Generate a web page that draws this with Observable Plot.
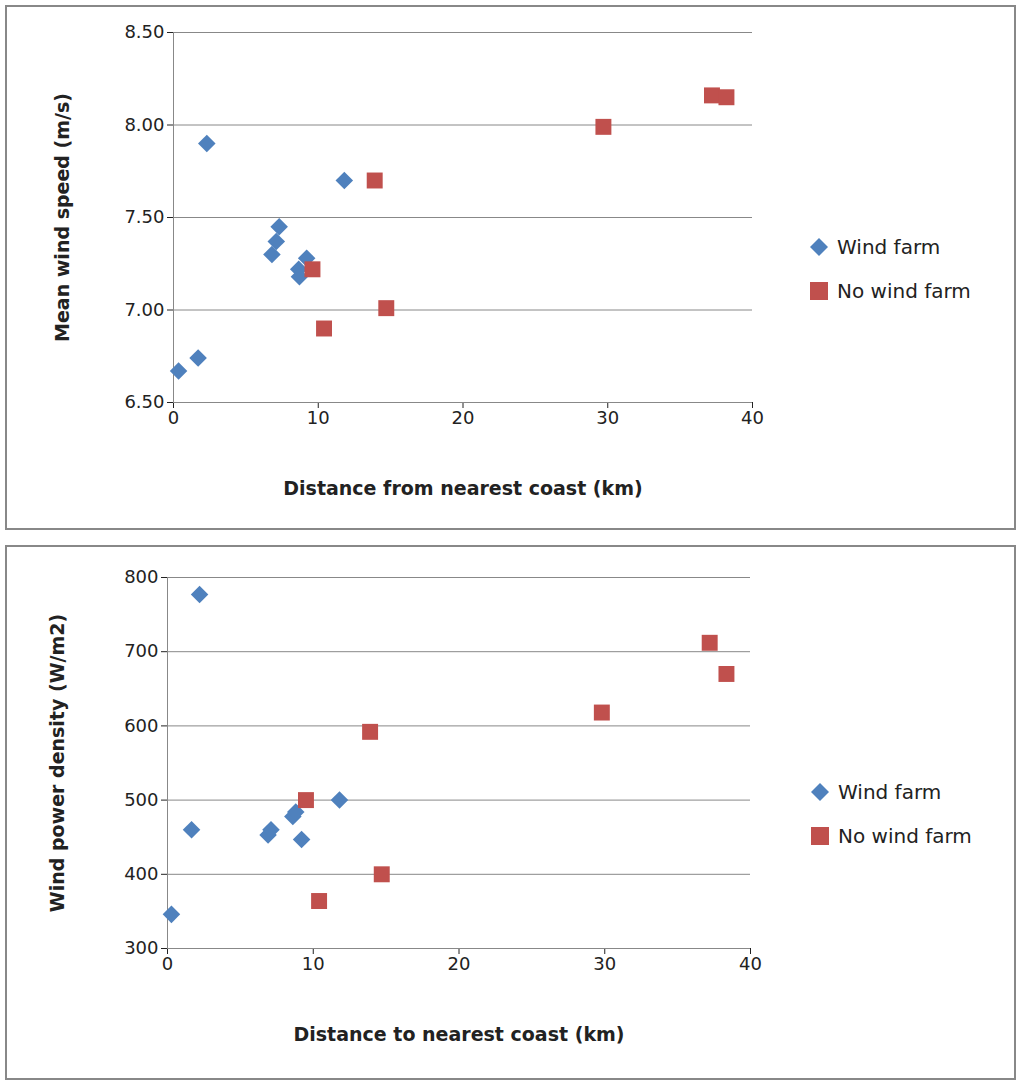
<!DOCTYPE html>
<html><head><meta charset="utf-8">
<script src="https://cdn.jsdelivr.net/npm/d3@7"></script>
<script src="https://cdn.jsdelivr.net/npm/@observablehq/plot@0.6"></script>
<style>
body{margin:0;background:#fff;font-family:"DejaVu Sans",sans-serif;}
.panel{position:absolute;left:5px;width:1011px;border:2px solid #888;box-sizing:border-box;background:#fff;}
.leg{position:absolute;font-size:20px;color:#222;}
.leg div{display:flex;align-items:center;margin-bottom:20px;}
.sw{display:inline-block;margin-right:8px;}
</style></head><body>
<div id="p1" class="panel" style="top:5px;height:525px"></div>
<div id="p2" class="panel" style="top:545px;height:535px"></div>
<script>
const farmDist1 = [2.3, 0.35, 1.7, 7.3, 7.1, 6.8, 9.2, 8.65, 8.7, 11.8];
const farmSpeed = [7.90, 6.67, 6.74, 7.45, 7.37, 7.30, 7.28, 7.22, 7.18, 7.70];
const noDist1 = [13.9, 9.6, 10.4, 14.7, 29.7, 37.2, 38.2];
const noSpeed = [7.70, 7.22, 6.90, 7.01, 7.99, 8.16, 8.15];
const farmDist2 = [2.2, 0.27, 1.65, 6.9, 7.1, 8.6, 8.8, 9.2, 11.8];
const farmPower = [777, 346, 460, 453, 460, 478, 484, 447, 500];
const noDist2 = [9.5, 13.9, 10.4, 14.7, 29.8, 37.2, 38.35];
const noPower = [500, 592, 364, 400, 618, 712, 670];
const blue="#4F81BD", red="#C0504D";
const zip=(a,b)=>a.map((x,i)=>({x,y:b[i]}));

function chart(el, o){
  const p = Plot.plot({
    width:1007, height:o.h, marginLeft:o.ml, marginRight:1007-o.mr, marginTop:o.mt, marginBottom:o.mb,
    style:{fontSize:"18px",fontFamily:"DejaVu Sans",color:"#222"},
    x:{domain:[0,40],ticks:[0,10,20,30,40],tickSize:6,label:o.xl,labelAnchor:"center",labelOffset:o.lo,labelArrow:"none"},
    y:{domain:o.yd,ticks:o.yt,tickFormat:o.tf,tickSize:6,label:o.yl,labelAnchor:"center",labelOffset:o.yo,labelArrow:"none"},
    marks:[
      Plot.gridY(o.yt,{stroke:"#888",strokeOpacity:1}),
      Plot.ruleX([0],{stroke:"#888"}),
      Plot.ruleY([o.yd[0]],{stroke:"#888"}),
      Plot.dot(zip(o.fx,o.fy),{x:"x",y:"y",symbol:"square",rotate:45,fill:blue,r:7}),
      Plot.dot(zip(o.nx,o.ny),{x:"x",y:"y",symbol:"square",fill:red,r:9})
    ]
  });
  p.style.position="absolute";p.style.left="0";p.style.top="0";
  p.querySelectorAll("g[aria-label='x-axis label'] text, g[aria-label='y-axis label'] text").forEach(t=>{t.style.fontWeight="bold";t.style.fontSize="19px";});
  el.appendChild(p);
  const lg=document.createElement("div");lg.className="leg";lg.style.left=o.lgx+"px";lg.style.top=o.lgy+"px";
  lg.innerHTML=`<div><svg class="sw" width="20" height="20"><path d="M10 1L19 10L10 19L1 10Z" fill="${blue}"/></svg>Wind farm</div><div><svg class="sw" width="20" height="20"><rect x="1" y="1" width="18" height="18" fill="${red}"/></svg>No wind farm</div>`;
  el.appendChild(lg);
}
chart(document.getElementById("p1"),{h:521,ml:166,mr:745,mt:25,mb:126,lo:92,yo:118,xl:"Distance from nearest coast (km)",yl:"Mean wind speed (m/s)",
  yd:[6.5,8.5],yt:[6.5,7,7.5,8,8.5],tf:d3.format(".2f"),fx:farmDist1,fy:farmSpeed,nx:noDist1,ny:noSpeed,lgx:802,lgy:228});
chart(document.getElementById("p2"),{h:531,ml:160,mr:743,mt:30,mb:130,lo:92,yo:117,xl:"Distance to nearest coast (km)",yl:"Wind power density (W/m2)",
  yd:[300,800],yt:[300,400,500,600,700,800],tf:d3.format("d"),fx:farmDist2,fy:farmPower,nx:noDist2,ny:noPower,lgx:803,lgy:233});
</script></body></html>
